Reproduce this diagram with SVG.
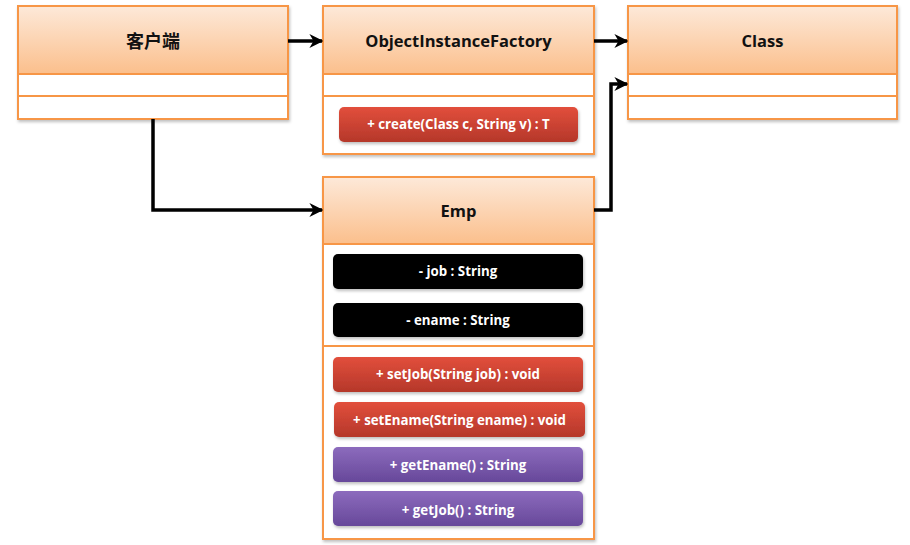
<svg xmlns="http://www.w3.org/2000/svg" width="910" height="545" viewBox="0 0 910 545">
<defs>
<linearGradient id="hdr" x1="0" y1="0" x2="0" y2="1">
<stop offset="0" stop-color="#fde9d9"/>
<stop offset="1" stop-color="#fbbf8c"/>
</linearGradient>
<linearGradient id="red" x1="0" y1="0" x2="0" y2="1">
<stop offset="0" stop-color="#e24f3c"/>
<stop offset="1" stop-color="#b5372a"/>
</linearGradient>
<linearGradient id="purple" x1="0" y1="0" x2="0" y2="1">
<stop offset="0" stop-color="#8c6bbd"/>
<stop offset="1" stop-color="#67489a"/>
</linearGradient>
<filter id="sh" x="-10%" y="-10%" width="120%" height="130%">
<feDropShadow dx="1" dy="2" stdDeviation="1.5" flood-color="#000" flood-opacity="0.25"/>
</filter>
<marker id="arr" viewBox="0 0 10 10" refX="9" refY="5" markerWidth="4" markerHeight="4" orient="auto" markerUnits="strokeWidth">
<path d="M0,0 L10,5 L0,10 L3,5 Z" fill="#000"/>
</marker>
</defs>
<style>
.box{fill:#fff;stroke:#f79646;stroke-width:2}
.hd{fill:url(#hdr);stroke:#f79646;stroke-width:2}
.sep{stroke:#f79646;stroke-width:2}
.title{font-family:"Open Sans","Liberation Sans","Noto Sans CJK SC",sans-serif;font-weight:bold;font-size:16.5px;fill:#111;text-anchor:middle}
.cjk{font-family:"Noto Sans CJK SC",sans-serif;font-size:18px}
.btxt{font-family:"Open Sans","Liberation Sans",sans-serif;font-weight:bold;font-size:13.3px;fill:#fff;text-anchor:middle}
.conn{fill:none;stroke:#000;stroke-width:3.5}
</style>
<rect width="910" height="545" fill="#fff"/>

<g id="client">
<rect class="box" x="18" y="6" width="270" height="113" filter="url(#sh)"/>
<rect class="hd" x="18" y="6" width="270" height="68"/>
<line class="sep" x1="18" y1="96" x2="288" y2="96"/>
<text class="title cjk" x="153" y="48">客户端</text>
</g>

<g id="factory">
<rect class="box" x="323" y="6" width="271" height="148" filter="url(#sh)"/>
<rect class="hd" x="323" y="6" width="271" height="68"/>
<line class="sep" x1="323" y1="96" x2="594" y2="96"/>
<text class="title" x="458.500" y="47">ObjectInstanceFactory</text>
<rect x="339" y="107" width="239" height="35" rx="5" fill="url(#red)" filter="url(#sh)"/>
<text class="btxt" x="458.500" y="129">+ create(Class c, String v) : T</text>
</g>

<g id="class">
<rect class="box" x="628" y="6" width="269" height="113" filter="url(#sh)"/>
<rect class="hd" x="628" y="6" width="269" height="68"/>
<line class="sep" x1="628" y1="96" x2="897" y2="96"/>
<text class="title" x="762.500" y="47">Class</text>
</g>

<g id="emp">
<rect class="box" x="323" y="177" width="271" height="362" filter="url(#sh)"/>
<rect class="hd" x="323" y="177" width="271" height="67"/>
<line class="sep" x1="323" y1="346" x2="594" y2="346"/>
<text class="title" x="458.500" y="217">Emp</text>
<rect x="333" y="254" width="250" height="35" rx="5" fill="#000" filter="url(#sh)"/>
<text class="btxt" x="458" y="276">- job : String</text>
<rect x="333" y="303" width="250" height="34" rx="5" fill="#000" filter="url(#sh)"/>
<text class="btxt" x="458" y="325">- ename : String</text>
<rect x="333" y="357" width="250" height="35" rx="5" fill="url(#red)" filter="url(#sh)"/>
<text class="btxt" x="458" y="379">+ setJob(String job) : void</text>
<rect x="334" y="402" width="251" height="35" rx="5" fill="url(#red)" filter="url(#sh)"/>
<text class="btxt" x="459.500" y="425">+ setEname(String ename) : void</text>
<rect x="333" y="447" width="250" height="35" rx="5" fill="url(#purple)" filter="url(#sh)"/>
<text class="btxt" x="458" y="470">+ getEname() : String</text>
<rect x="333" y="491" width="250" height="35" rx="5" fill="url(#purple)" filter="url(#sh)"/>
<text class="btxt" x="458" y="515">+ getJob() : String</text>
</g>

<g id="connectors">
<path class="conn" d="M288,41 L322,41" marker-end="url(#arr)"/>
<path class="conn" d="M594,41 L627,41" marker-end="url(#arr)"/>
<path class="conn" d="M153,119 L153,210 L322,210" marker-end="url(#arr)"/>
<path class="conn" d="M594,210 L611,210 L611,84 L627,84" marker-end="url(#arr)"/>
</g>
</svg>
